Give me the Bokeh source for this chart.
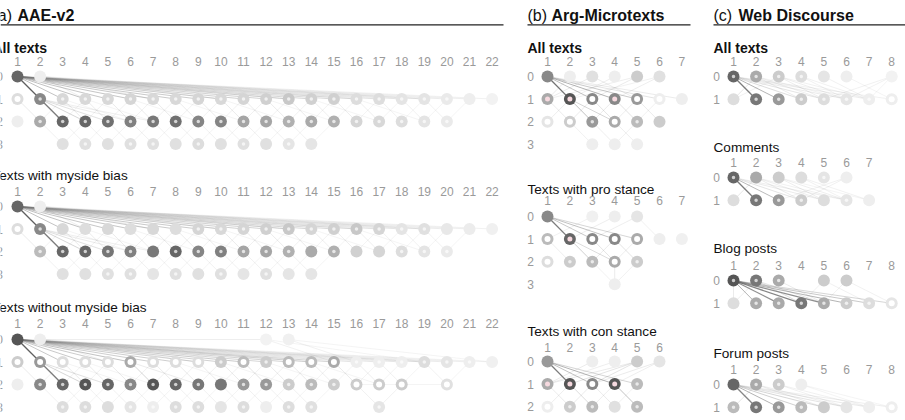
from bokeh.plotting import figure
from bokeh.models import Range1d
from bokeh.core.properties import value
from bokeh.embed import file_html
from bokeh.resources import INLINE

FONT = value("Liberation Sans")

# ---------------- data ----------------
# node spec per row: "column:gray(hex):style"  style f=plain, d=light dot, r=white ring, p=pink ring
AAE_ALL_NODES = {
    0: "1:66:f 2:ee:f",
    1: "1:dd:r 2:88:d 3:d8:d 4:d8:d 5:d8:d 6:d5:d 7:d8:d 8:d8:d 9:d5:d 10:d8:d 11:d5:d 12:d0:d 13:c8:d 14:d0:d 15:d0:d 16:dd:d 17:dd:d 18:e4:d 19:e4:d 20:ea:d 21:ee:f 22:f2:f",
    2: "1:ee:f 2:aa:d 3:66:d 4:66:d 5:70:d 6:80:d 7:78:d 8:70:d 9:85:d 10:85:d 11:a5:d 12:a5:d 13:b0:d 14:aa:d 15:b0:d 16:d5:d 17:d8:d 18:dd:d 19:e4:d 20:ea:d",
    3: "3:e0:f 4:e0:d 5:e0:f 6:e0:d 7:e0:d 8:e0:f 9:dd:d 10:e0:f 11:e0:d 12:e0:f 13:e5:d 14:e5:f",
}
AAE_MYS_NODES = {
    0: "1:66:f 2:ee:f",
    1: "1:dd:r 2:88:d 3:d8:f 4:dd:f 5:d8:f 6:dd:f 7:d8:f 8:dd:f 9:d5:d 10:d8:d 11:d5:d 12:d0:d 13:c8:d 14:d5:d 15:d0:d 16:c8:d 17:d5:d 18:e4:d 19:e0:d 20:e8:f 21:ec:f 22:f0:f",
    2: "2:bb:d 3:66:d 4:66:d 5:75:d 6:80:d 7:78:f 8:66:d 9:85:d 10:80:d 11:a5:d 12:a5:d 13:b0:d 14:aa:f 15:b0:d 16:d0:f 17:d5:f 18:dd:d 19:e4:d 20:ea:d",
    3: "3:e0:f 4:e0:f 5:e0:d 6:e0:d 7:e5:f 8:e0:d 9:e0:f 10:e0:d 11:e5:f 12:e0:d 13:e5:f 14:e5:f",
}
AAE_WO_NODES = {
    0: "1:55:f 2:ee:f 12:f2:f 13:f0:f",
    1: "1:cc:r 2:99:r 3:dd:r 4:dd:r 5:dd:r 6:aa:r 7:dd:r 8:dd:r 9:dd:r 10:cc:d 11:bb:r 12:cc:d 13:bb:r 14:bb:r 15:aa:r 16:ee:d 17:ee:d 18:ee:d 19:dd:d 20:e5:d 21:ee:d 22:f0:f",
    2: "1:ee:f 2:88:d 3:66:d 4:55:d 5:66:d 6:88:d 7:55:d 8:66:d 9:77:d 10:77:f 11:99:d 12:99:d 13:cc:d 14:bb:d 15:cc:d 16:cc:r 17:cc:r 18:cc:r 20:e0:r",
    3: "3:dd:d 4:dd:d 5:dd:f 6:e5:d 7:ee:d 8:dd:d 9:dd:d 10:e5:f 11:dd:d 12:ee:f 13:dd:d 14:e0:d 17:e5:d",
}
ARG_ALL_NODES = {
    0: "1:88:f 2:ee:f 3:e0:f 4:ee:f 5:cc:f 6:e0:f",
    1: "1:aa:p 2:55:p 3:88:r 4:88:p 5:99:r 6:ee:r 7:ee:f",
    2: "1:e5:r 2:cc:r 3:99:d 4:aa:r 5:bb:d 6:cc:f",
    3: "3:ee:f 4:ee:f 5:ee:f",
}
ARG_PRO_NODES = {
    0: "1:88:f 3:f0:f 4:ee:f 5:e5:f",
    1: "1:bb:r 2:66:p 3:88:r 4:88:r 5:aa:r 6:ee:f 7:f0:f",
    2: "1:dd:r 2:cc:d 3:bb:d 4:aa:r 5:cc:d",
    3: "4:ee:f",
}
ARG_CON_NODES = {
    0: "1:99:f 3:ee:f 4:ee:f 5:cc:f 6:e5:f",
    1: "1:aa:p 2:55:p 3:88:r 4:55:p 5:bb:d",
    2: "1:ee:r 2:cc:d 3:bb:d 4:e0:f 5:bb:d",
}
WEB_ALL_NODES = {
    0: "1:66:d 2:aa:d 3:cc:d 4:dd:d 5:e5:f 6:ee:f 8:f2:f",
    1: "1:dd:f 2:77:d 3:99:d 4:cc:d 5:dd:d 6:e5:d 7:ee:d 8:ee:r",
}
WEB_COM_NODES = {
    0: "1:66:d 2:aa:f 3:cc:f 4:dd:f 5:e5:d 6:ee:f",
    1: "1:dd:f 2:77:d 3:99:d 4:cc:d 5:dd:f 6:e5:d 7:ee:f",
}
WEB_BLOG_NODES = {
    0: "1:55:d 2:77:d 3:aa:d 5:cc:f 6:cc:f",
    1: "1:dd:f 2:aa:d 3:aa:d 4:77:d 5:aa:d 6:cc:d 7:dd:d 8:e5:r",
}
WEB_FORUM_NODES = {
    0: "1:66:f 2:aa:d 3:cc:d 4:ee:f",
    1: "1:bb:d 2:77:d 3:99:d 4:bb:d 5:cc:f 6:e5:f 7:ee:f 8:ee:r",
}

# edges: "row.col-row.col:alpha%"
AAE_ALL_EDGES = """
0.1-1.2:85 0.1-1.3:45 0.1-1.4:45 0.1-1.5:42 0.1-1.6:42 0.1-1.7:40 0.1-1.8:40 0.1-1.9:38 0.1-1.10:36 0.1-1.11:34
0.1-1.12:32 0.1-1.13:32 0.1-1.14:30 0.1-1.15:28 0.1-1.16:25 0.1-1.17:22 0.1-1.18:20 0.1-1.19:18 0.1-1.20:15 0.1-1.21:12 0.1-1.22:10
0.2-1.4:12 0.2-1.7:12 0.2-1.10:10 0.2-1.13:10 0.2-1.16:8 0.2-1.19:8
1.2-2.3:70 1.2-2.4:30 1.2-2.5:22 1.2-2.6:15 1.2-2.7:12
1.1-2.2:15 1.3-2.4:15 1.3-2.2:10 1.4-2.5:15 1.4-2.3:10 1.5-2.6:15 1.5-2.4:10 1.6-2.7:15 1.6-2.5:10 1.7-2.8:15 1.7-2.6:10
1.8-2.9:15 1.8-2.7:10 1.9-2.10:15 1.9-2.8:10 1.10-2.11:15 1.10-2.9:10 1.11-2.12:15 1.11-2.10:10 1.12-2.13:15 1.12-2.11:10
1.13-2.14:15 1.13-2.12:10 1.14-2.15:12 1.14-2.13:10 1.15-2.16:12 1.15-2.14:10 1.16-2.17:12 1.16-2.15:8 1.17-2.18:10
1.17-2.16:8 1.18-2.19:10 1.18-2.17:8 1.19-2.20:10 1.19-2.18:8 1.20-2.19:8 1.21-2.20:8
1.3-2.6:8 1.4-2.7:8 1.6-2.9:8 1.8-2.11:8 1.10-2.13:8 1.12-2.15:8 1.14-2.17:8 1.16-2.19:8
2.2-3.3:10 2.3-3.4:10 2.4-3.5:10 2.5-3.6:10 2.6-3.7:10 2.7-3.8:10 2.8-3.9:10 2.9-3.10:10 2.10-3.11:10 2.11-3.12:10
2.12-3.13:10 2.13-3.14:10 2.4-3.3:8 2.5-3.4:8 2.6-3.5:8 2.7-3.6:8 2.8-3.7:8 2.9-3.8:8 2.10-3.9:8 2.11-3.10:8
2.12-3.11:8 2.13-3.12:8 2.14-3.13:8 2.15-3.14:8
"""
AAE_MYS_EDGES = AAE_ALL_EDGES
AAE_WO_EDGES = """
0.1-1.2:85 0.1-1.3:40 0.1-1.4:40 0.1-1.5:38 0.1-1.6:45 0.1-1.7:36 0.1-1.8:36 0.1-1.9:34 0.1-1.10:34 0.1-1.11:38
0.1-1.12:30 0.1-1.13:32 0.1-1.14:30 0.1-1.15:32 0.1-1.16:20 0.1-1.17:18 0.1-1.18:18 0.1-1.19:20 0.1-1.20:15 0.1-1.21:12 0.1-1.22:10
0.2-1.5:12 0.2-1.9:10 0.2-1.14:10 0.2-1.19:8 0.12-1.15:10 0.13-1.16:10 0.12-1.19:8 0.13-1.22:8 0.2-0.12:12
1.2-2.3:70 1.2-2.4:30 1.2-2.5:22 1.6-2.7:30 1.6-2.9:15 1.11-2.12:20 1.15-2.16:15
1.1-2.2:15 1.3-2.4:15 1.3-2.2:10 1.4-2.5:15 1.4-2.3:10 1.5-2.6:15 1.5-2.4:10 1.7-2.8:15 1.7-2.6:10
1.8-2.9:15 1.8-2.7:10 1.9-2.10:15 1.9-2.8:10 1.10-2.11:15 1.10-2.9:10 1.11-2.10:10 1.12-2.13:15 1.12-2.11:10
1.13-2.14:15 1.13-2.12:10 1.14-2.15:12 1.14-2.13:10 1.15-2.14:10 1.16-2.17:12 1.16-2.15:8 1.17-2.18:10
1.17-2.16:8 1.18-2.17:8 1.19-2.20:10 1.19-2.18:8 1.21-2.20:8
1.3-2.6:8 1.4-2.7:8 1.8-2.11:8 1.10-2.13:8 1.12-2.15:8 1.14-2.17:8
2.2-3.3:10 2.3-3.4:10 2.4-3.5:10 2.5-3.6:10 2.6-3.7:10 2.7-3.8:10 2.8-3.9:10 2.9-3.10:10 2.10-3.11:10 2.11-3.12:10
2.12-3.13:10 2.13-3.14:10 2.4-3.3:8 2.5-3.4:8 2.6-3.5:8 2.7-3.6:8 2.8-3.7:8 2.9-3.8:8 2.10-3.9:8 2.11-3.10:8
2.12-3.11:8 2.13-3.12:8 2.14-3.13:8 2.16-3.17:10 2.18-3.17:10 2.16-2.20:8 2.15-3.14:8
"""
ARG_ALL_EDGES = """
0.1-1.2:75 0.1-1.3:45 0.1-1.4:55 0.1-1.5:40 0.1-1.6:20 0.1-1.7:15 0.2-1.1:15 0.3-1.1:15 0.3-1.5:15 0.4-1.2:12
0.5-1.3:15 0.5-1.1:12 0.6-1.4:12 0.6-1.2:10
1.2-2.3:45 1.2-2.4:30 1.1-2.2:15 1.3-2.4:20 1.3-2.2:15 1.4-2.5:20 1.4-2.3:15 1.5-2.6:15 1.5-2.4:12 1.6-2.5:10 1.2-2.1:12
2.3-3.4:12 2.4-3.5:12 2.2-3.3:10 2.5-3.4:10
"""
ARG_PRO_EDGES = """
0.1-1.2:70 0.1-1.3:40 0.1-1.4:45 0.1-1.5:30 0.4-1.2:12 0.5-1.3:12 0.3-1.1:10 0.5-1.6:10
1.2-2.3:35 1.2-2.4:25 1.3-2.4:20 1.4-2.5:20 1.4-2.3:15 1.5-2.4:12 1.1-2.2:12
2.4-3.4:15 2.3-3.4:10 2.5-3.4:10
"""
ARG_CON_EDGES = """
0.1-1.2:70 0.1-1.3:45 0.1-1.4:55 0.1-1.5:30 0.3-1.1:15 0.4-1.1:12 0.5-1.2:20 0.5-1.3:20 0.5-1.1:15 0.6-1.3:15 0.6-1.4:12
1.2-2.3:25 1.1-2.2:15 1.2-2.1:12 1.3-2.4:15 1.3-2.2:15 1.4-2.5:45 1.4-2.3:12 1.5-2.4:10
"""
WEB_ALL_EDGES = """
0.1-1.2:70 0.1-1.3:55 0.1-1.4:25 0.1-1.5:20 0.1-1.6:15 0.1-1.7:12 0.1-1.8:10 0.2-1.1:18 0.2-1.4:15 0.2-1.5:12
0.3-1.5:12 0.3-1.6:12 0.3-1.1:10 0.4-1.6:10 0.4-1.7:10 0.5-1.7:10 0.6-1.8:8 0.8-1.5:10 0.8-1.6:10 0.8-1.7:8 0.2-1.6:10 0.3-1.7:10
"""
WEB_COM_EDGES = """
0.1-1.2:70 0.1-1.3:50 0.1-1.4:20 0.1-1.5:15 0.1-1.6:12 0.2-1.1:18 0.2-1.4:15 0.2-1.5:12 0.3-1.5:12 0.3-1.6:12
0.4-1.6:10 0.4-1.7:10 0.6-1.4:10 0.6-1.3:10 0.2-1.6:10 0.3-1.7:8
"""
WEB_BLOG_EDGES = """
0.1-1.2:55 0.1-1.3:60 0.1-1.4:65 0.1-1.5:60 0.1-1.6:55 0.1-1.7:40 0.1-1.8:30 0.2-1.4:25 0.2-1.5:20 0.2-1.1:12
0.3-1.5:15 0.5-1.7:10 0.6-1.8:10 0.5-1.4:10 0.6-1.5:10 0.1-1.1:15
"""
WEB_FORUM_EDGES = """
0.1-1.2:65 0.1-1.3:55 0.1-1.4:35 0.1-1.5:30 0.1-1.6:20 0.1-1.7:15 0.1-1.8:12 0.2-1.1:18 0.2-1.5:15 0.2-1.6:12
0.3-1.6:10 0.3-1.7:10 0.4-1.7:8 0.4-1.8:8
"""

PANEL_TITLES = [("(a) ", "AAE-v2"), ("(b) ", "Arg-Microtexts"), ("(c) ", "Web Discourse")]

# subpanels: title, bold?, n_cols, n_rows, nodes, edges
SUBPANELS = {
    "a": [("All texts", True, 22, 4, AAE_ALL_NODES, AAE_ALL_EDGES),
          ("Texts with myside bias", False, 22, 4, AAE_MYS_NODES, AAE_MYS_EDGES),
          ("Texts without myside bias", False, 22, 4, AAE_WO_NODES, AAE_WO_EDGES)],
    "b": [("All texts", True, 7, 4, ARG_ALL_NODES, ARG_ALL_EDGES),
          ("Texts with pro stance", False, 7, 4, ARG_PRO_NODES, ARG_PRO_EDGES),
          ("Texts with con stance", False, 6, 3, ARG_CON_NODES, ARG_CON_EDGES)],
    "c": [("All texts", True, 8, 2, WEB_ALL_NODES, WEB_ALL_EDGES),
          ("Comments", False, 7, 2, WEB_COM_NODES, WEB_COM_EDGES),
          ("Blog posts", False, 8, 2, WEB_BLOG_NODES, WEB_BLOG_EDGES),
          ("Forum posts", False, 8, 2, WEB_FORUM_NODES, WEB_FORUM_EDGES)],
}

# ---------------- layout (pixels) ----------------
PANEL_LAYOUT = {
    "a": dict(left=-8, bold_x=17, line_x0=0, line_x1=503, label_x=-1, col1=17, dx=22.6, dy=22.5,
              sub=[(47, 61, 76), (175, 191, 206), (307, 323, 339)]),
    "b": dict(left=527, bold_x=551, line_x0=527, line_x1=690, label_x=530, col1=547, dx=22.4, dy=22.6,
              sub=[(47, 61, 76), (189, 200, 216), (331, 347, 361)]),
    "c": dict(left=713, bold_x=738, line_x0=713, line_x1=905, label_x=716, col1=733, dx=22.6, dy=22.8,
              sub=[(47, 61, 76), (147, 162, 177), (248, 265, 280), (353, 369, 384)]),
}

p = figure(width=905, height=420, x_range=Range1d(0, 905), y_range=Range1d(420, 0),
           output_backend="svg", toolbar_location=None, min_border=0)
p.axis.visible = False
p.grid.visible = False
p.outline_line_color = None
p.background_fill_color = "white"
p.border_fill_color = "white"


def gray(g):
    g = int(max(0, min(255, g)))
    return "#%02x%02x%02x" % (g, g, g)


def parse_edges(s):
    out = []
    for tok in s.split():
        a, w = tok.split(":")
        src, dst = a.split("-")
        r1, c1 = src.split(".")
        r2, c2 = dst.split(".")
        out.append((int(r1), int(c1), int(r2), int(c2), int(w) / 100.0))
    return out


for key, (pt_norm, pt_bold) in zip(["a", "b", "c"], PANEL_TITLES):
    L = PANEL_LAYOUT[key]
    p.text(x=[L["left"]], y=[15], text=[pt_norm], text_font=FONT, text_font_size="16px",
           text_color="#111111", text_baseline="alphabetic", text_align="left")
    p.text(x=[L["bold_x"]], y=[15], text=[pt_bold], text_font=FONT, text_font_size="16px",
           text_font_style="bold", text_color="#111111", text_baseline="alphabetic", text_align="left")
    p.segment(x0=[L["line_x0"]], y0=[24.3], x1=[L["line_x1"]], y1=[24.3], line_color="#222222", line_width=1.3)

    for (title, bold, ncols, nrows, nodes, edges), (ty, ny, r0) in zip(SUBPANELS[key], L["sub"]):
        col1, dx, dy = L["col1"], L["dx"], L["dy"]
        p.text(x=[L["left"]], y=[ty], text=[title], text_font=FONT,
               text_font_size="14px" if bold else "13.6px",
               text_font_style="bold" if bold else "normal", text_color="#111111",
               text_baseline="alphabetic", text_align="left")
        cols = list(range(1, ncols + 1))
        p.text(x=[col1 + (c - 1) * dx for c in cols], y=[ny] * ncols, text=[str(c) for c in cols],
               text_font=FONT, text_font_size="12px", text_color="#9a9a9a",
               text_align="center", text_baseline="middle")
        rows = list(range(nrows))
        p.text(x=[L["label_x"]] * nrows, y=[r0 + r * dy for r in rows], text=[str(r) for r in rows],
               text_font=FONT, text_font_size="12px", text_color="#9a9a9a",
               text_align="center", text_baseline="middle")

        # edges
        ex0, ey0, ex1, ey1, ea, ew, ec = [], [], [], [], [], [], []
        for (r1, c1, r2, c2, w) in parse_edges(edges):
            ex0.append(col1 + (c1 - 1) * dx); ey0.append(r0 + r1 * dy)
            ex1.append(col1 + (c2 - 1) * dx); ey1.append(r0 + r2 * dy)
            ea.append(w)
            ew.append(1.3 if w >= 0.6 else 1.0)
            ec.append("#444444" if w >= 0.6 else "#777777")
        p.segment(x0=ex0, y0=ey0, x1=ex1, y1=ey1, line_color=ec, line_alpha=ea, line_width=ew)

        # nodes
        nx, nyy, nc = [], [], []
        ix, iy, ic, isz = [], [], [], []
        for r, spec in nodes.items():
            for tok in spec.split():
                c, g, st = tok.split(":")
                c = int(c); g = int(g, 16)
                x = col1 + (c - 1) * dx
                y = r0 + r * dy
                nx.append(x); nyy.append(y); nc.append(gray(g))
                if st == "d":
                    ix.append(x); iy.append(y); ic.append(gray(g + (255 - g) * 0.7)); isz.append(3.5)
                elif st == "r":
                    ix.append(x); iy.append(y); ic.append("#ffffff"); isz.append(6)
                elif st == "p":
                    ix.append(x); iy.append(y); ic.append("#f6d9df"); isz.append(5)
        p.scatter(x=nx, y=nyy, size=12, marker="circle", fill_color=nc, line_color=None)
        if ix:
            p.scatter(x=ix, y=iy, size=isz, marker="circle", fill_color=ic, line_color=None)

open("out.html", "w").write(file_html(p, INLINE))
